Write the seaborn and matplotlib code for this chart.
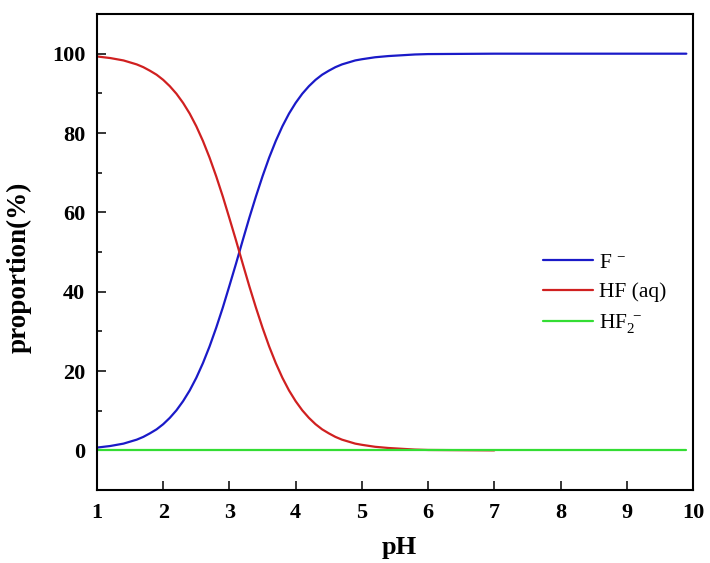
import matplotlib
matplotlib.use("Agg")
import matplotlib.pyplot as plt
import seaborn as sns
import pandas as pd
from matplotlib.ticker import MultipleLocator

# ---- data ----
ph_f = [1.0, 1.1, 1.2, 1.3, 1.4, 1.5, 1.6, 1.7, 1.8, 1.9,
        2.0, 2.1, 2.2, 2.3, 2.4, 2.5, 2.6, 2.7, 2.8, 2.9,
        3.0, 3.1, 3.2, 3.3, 3.4, 3.5, 3.6, 3.7, 3.8, 3.9,
        4.0, 4.1, 4.2, 4.3, 4.4, 4.5, 4.6, 4.7, 4.8, 4.9,
        5.0, 5.2, 5.4, 5.6, 5.8, 6.0, 6.5, 7.0, 8.0, 9.0, 9.9]
f_minus = [0.7, 0.9, 1.1, 1.4, 1.7, 2.2, 2.7, 3.4, 4.3, 5.3,
           6.6, 8.2, 10.1, 12.4, 15.1, 18.3, 22.0, 26.2, 30.9, 36.0,
           41.5, 47.1, 52.9, 58.6, 64.0, 69.1, 73.8, 78.0, 81.7, 84.9,
           87.6, 89.9, 91.8, 93.4, 94.7, 95.7, 96.6, 97.3, 97.8, 98.3,
           98.6, 99.1, 99.4, 99.6, 99.8, 99.9, 99.95, 100.0, 100.0, 100.0, 100.0]

ph_hf = [1.0, 1.1, 1.2, 1.3, 1.4, 1.5, 1.6, 1.7, 1.8, 1.9,
         2.0, 2.1, 2.2, 2.3, 2.4, 2.5, 2.6, 2.7, 2.8, 2.9,
         3.0, 3.1, 3.2, 3.3, 3.4, 3.5, 3.6, 3.7, 3.8, 3.9,
         4.0, 4.1, 4.2, 4.3, 4.4, 4.5, 4.6, 4.7, 4.8, 4.9,
         5.0, 5.2, 5.4, 5.6, 5.8, 6.0, 6.5, 7.0]
hf_aq = [99.3, 99.1, 98.9, 98.6, 98.3, 97.8, 97.3, 96.6, 95.7, 94.7,
         93.4, 91.8, 89.9, 87.6, 84.9, 81.7, 78.0, 73.8, 69.1, 64.0,
         58.5, 52.9, 47.1, 41.4, 36.0, 30.9, 26.2, 22.0, 18.3, 15.1,
         12.4, 10.1, 8.2, 6.6, 5.3, 4.3, 3.4, 2.7, 2.2, 1.7,
         1.4, 0.9, 0.6, 0.4, 0.2, 0.1, 0.05, 0.0]

ph_hf2 = [1.0, 3.0, 5.0, 7.0, 9.9]
hf2_minus = [0.0, 0.0, 0.0, 0.0, 0.0]

labels = [r"F$^{\ -}$", "HF (aq)", r"HF$_2^{\ -}$"]
colors = ["#1a1ac8", "#d02020", "#33dd33"]
x_ticks = [1, 2, 3, 4, 5, 6, 7, 8, 9, 10]
y_ticks = [0, 20, 40, 60, 80, 100]

df = pd.concat([
    pd.DataFrame({"pH": ph_f, "proportion": f_minus, "species": labels[0]}),
    pd.DataFrame({"pH": ph_hf, "proportion": hf_aq, "species": labels[1]}),
    pd.DataFrame({"pH": ph_hf2, "proportion": hf2_minus, "species": labels[2]}),
], ignore_index=True)

sns.set_theme(style="white")
plt.rcParams["font.family"] = ["Liberation Serif", "DejaVu Serif"]
plt.rcParams["mathtext.fontset"] = "custom"
plt.rcParams["mathtext.rm"] = "Liberation Serif"
plt.rcParams["mathtext.it"] = "Liberation Serif:italic"
plt.rcParams["mathtext.bf"] = "Liberation Serif:bold"
for k in ["text.color", "axes.labelcolor", "xtick.color", "ytick.color", "axes.edgecolor"]:
    plt.rcParams[k] = "black"

fig = plt.figure(figsize=(7.1, 5.63), dpi=100, facecolor="white")
ax = fig.add_axes([0.1366, 0.1296, 0.8394, 0.8455])

sns.lineplot(data=df, x="pH", y="proportion", hue="species",
             hue_order=labels, palette=dict(zip(labels, colors)),
             linewidth=1.6, ax=ax, sort=False, estimator=None)

ax.set_xlim(1, 10)
ax.set_ylim(-10, 110)
ax.set_xticks(x_ticks)
ax.set_yticks(y_ticks)
ax.yaxis.set_minor_locator(MultipleLocator(10))
ax.tick_params(axis="both", which="major", direction="in", length=6.5, width=1.1,
               labelsize=16, top=False, right=False, bottom=True, left=True)
ax.tick_params(axis="x", which="major", pad=9.5)
ax.tick_params(axis="y", which="major", pad=8.5)
ax.tick_params(axis="y", which="minor", direction="in", length=3.8, width=1.1, left=True)
for lab in ax.get_xticklabels() + ax.get_yticklabels():
    lab.set_fontweight("bold")

for s in ax.spines.values():
    s.set_linewidth(1.5)
    s.set_color("black")

ax.set_xlabel("pH", fontsize=19, fontweight="bold")
ax.set_ylabel("proportion(%)", fontsize=19.5, fontweight="bold")
ax.xaxis.set_label_coords(0.507, -0.097)
ax.yaxis.set_label_coords(-0.109, 0.468)

leg = ax.legend(loc="center left", bbox_to_anchor=(0.716, 0.412), frameon=False,
                fontsize=15.5, handlelength=2.3, handletextpad=0.3, labelspacing=0.45)

fig.savefig("out.png", dpi=100, facecolor="white")
